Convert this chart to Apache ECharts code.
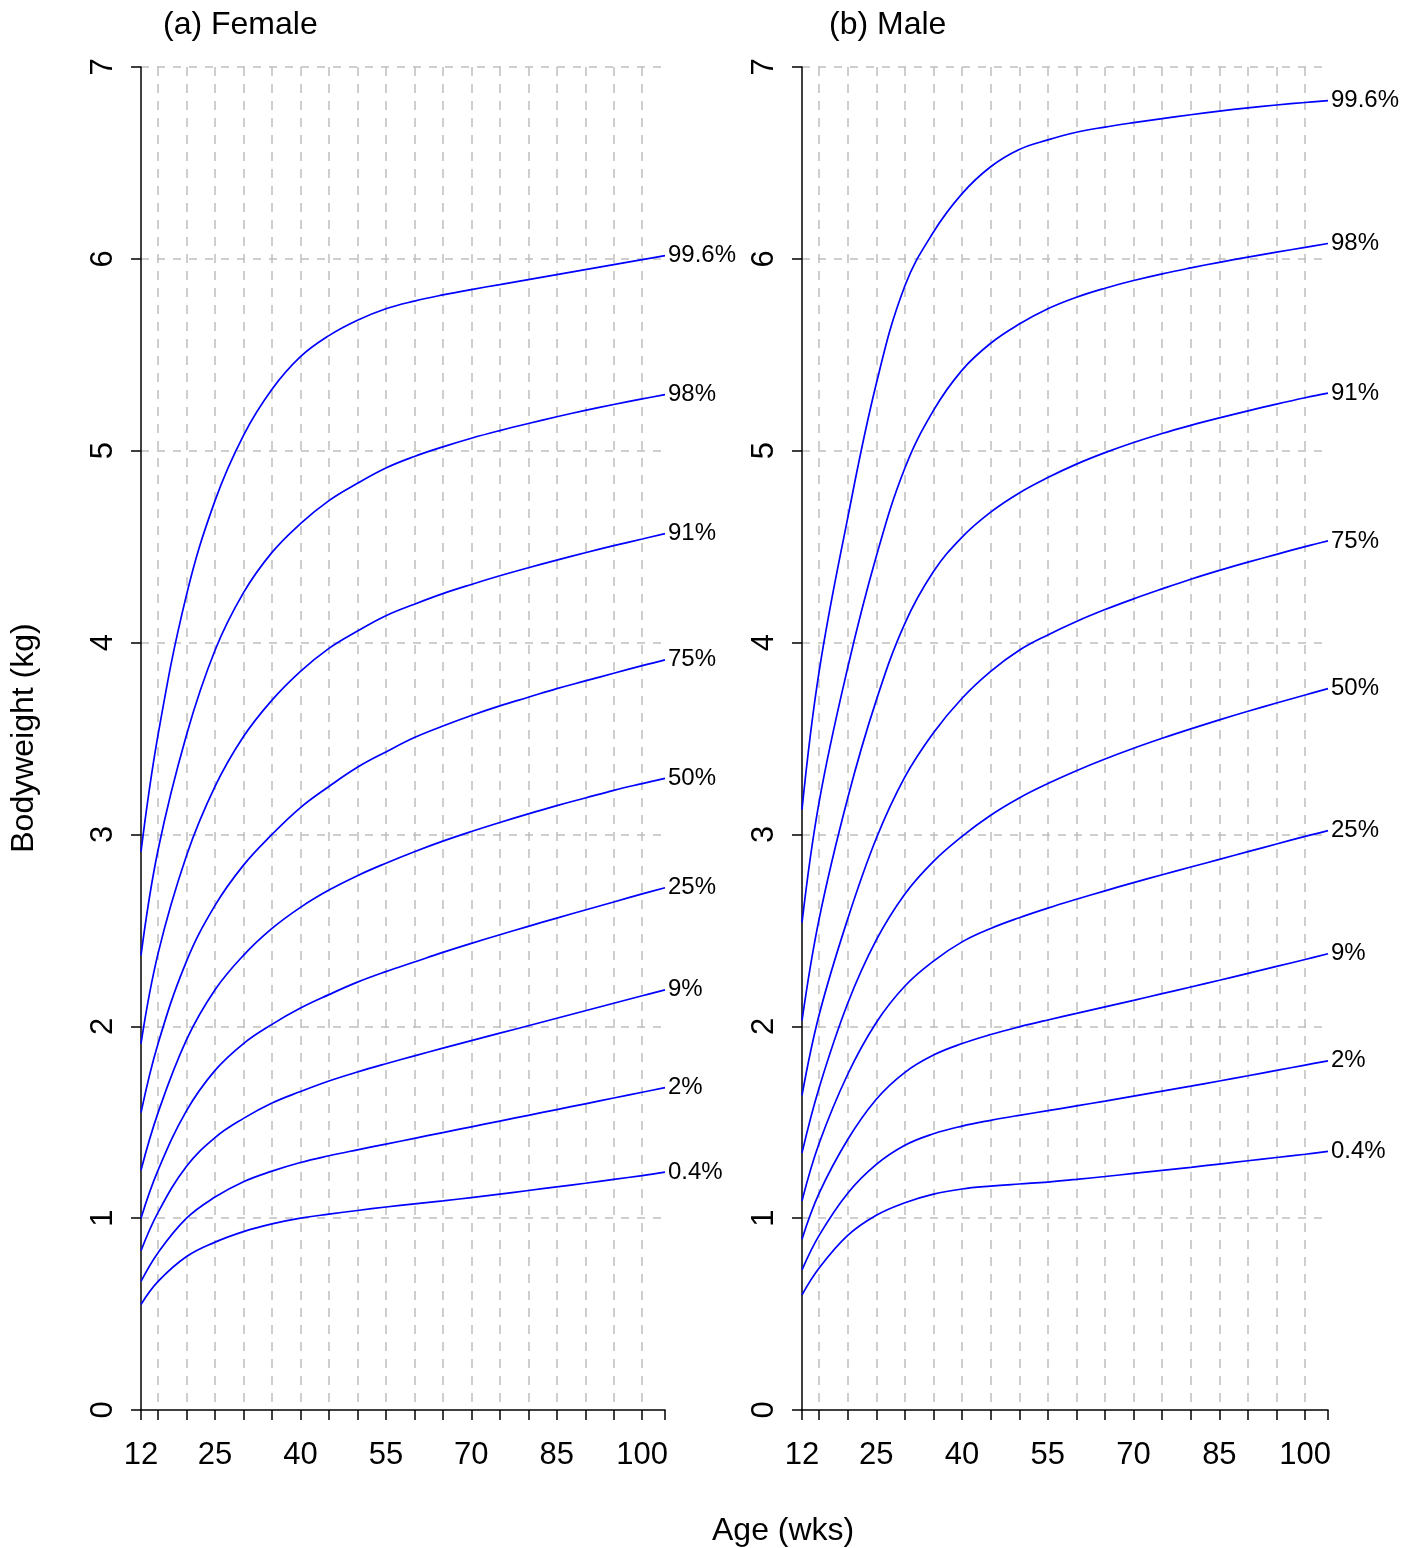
<!DOCTYPE html>
<html>
<head>
<meta charset="utf-8">
<script src="https://cdn.jsdelivr.net/npm/echarts@6/dist/echarts.min.js"></script>
<style>
html,body{margin:0;padding:0;background:#fff;}
#chart{width:1417px;height:1548px;}
</style>
</head>
<body>
<div id="chart"></div>
<script>
// ---- data ----
const ages = [12, 15, 20, 25, 30, 35, 40, 45, 50, 55, 60, 65, 70, 75, 80, 85, 90, 95, 100, 104];
const percentiles = ['99.6%', '98%', '91%', '75%', '50%', '25%', '9%', '2%', '0.4%'];
const xTickValues = [12, 15, 20, 25, 30, 35, 40, 45, 50, 55, 60, 65, 70, 75, 80, 85, 90, 95, 100, 104];
const xLabelValues = [12, 25, 40, 55, 70, 85, 100];
const panelTitles = ['(a) Female', '(b) Male'];

// Female percentile curves (kg)
const female996 = [2.91, 3.52, 4.25, 4.74, 5.08, 5.32, 5.49, 5.60, 5.68, 5.74, 5.78, 5.812, 5.84, 5.866, 5.892, 5.918, 5.944, 5.97, 5.996, 6.017];
const female98  = [2.37, 2.92, 3.52, 3.96, 4.26, 4.47, 4.62, 4.74, 4.83, 4.91, 4.97, 5.02, 5.065, 5.105, 5.142, 5.177, 5.21, 5.241, 5.27, 5.292];
const female91  = [1.91, 2.38, 2.89, 3.25, 3.51, 3.70, 3.85, 3.97, 4.06, 4.14, 4.20, 4.255, 4.303, 4.348, 4.39, 4.43, 4.468, 4.505, 4.54, 4.568];
const female75  = [1.55, 1.91, 2.34, 2.63, 2.84, 3.00, 3.14, 3.25, 3.35, 3.43, 3.505, 3.565, 3.62, 3.67, 3.715, 3.76, 3.80, 3.84, 3.88, 3.91];
const female50  = [1.25, 1.55, 1.93, 2.19, 2.37, 2.51, 2.62, 2.71, 2.785, 2.85, 2.91, 2.965, 3.015, 3.062, 3.107, 3.15, 3.19, 3.23, 3.265, 3.292];
const female25  = [1.00, 1.25, 1.56, 1.77, 1.91, 2.01, 2.095, 2.165, 2.23, 2.285, 2.335, 2.385, 2.432, 2.477, 2.521, 2.564, 2.606, 2.648, 2.69, 2.722];
const female9   = [0.83, 1.03, 1.27, 1.42, 1.52, 1.60, 1.66, 1.715, 1.762, 1.805, 1.846, 1.886, 1.925, 1.964, 2.003, 2.042, 2.081, 2.12, 2.159, 2.19];
const female2   = [0.67, 0.82, 1.00, 1.11, 1.19, 1.245, 1.29, 1.325, 1.356, 1.386, 1.416, 1.446, 1.476, 1.506, 1.536, 1.566, 1.596, 1.626, 1.656, 1.68];
const female04  = [0.55, 0.67, 0.80, 0.875, 0.93, 0.97, 1.00, 1.021, 1.04, 1.058, 1.074, 1.09, 1.107, 1.125, 1.144, 1.163, 1.182, 1.202, 1.222, 1.24];

// Male percentile curves (kg)
const male996 = [3.13, 3.85, 4.65, 5.35, 5.86, 6.14, 6.34, 6.48, 6.57, 6.62, 6.66, 6.687, 6.71, 6.731, 6.751, 6.77, 6.787, 6.802, 6.815, 6.825];
const male98  = [2.54, 3.17, 3.87, 4.45, 4.91, 5.21, 5.42, 5.56, 5.66, 5.74, 5.80, 5.847, 5.887, 5.922, 5.953, 5.982, 6.009, 6.035, 6.06, 6.08];
const male91  = [2.03, 2.56, 3.19, 3.70, 4.10, 4.37, 4.55, 4.68, 4.78, 4.86, 4.93, 4.99, 5.043, 5.09, 5.132, 5.171, 5.208, 5.243, 5.276, 5.30];
const male75  = [1.64, 2.06, 2.56, 2.98, 3.30, 3.53, 3.71, 3.85, 3.96, 4.04, 4.11, 4.172, 4.228, 4.28, 4.33, 4.376, 4.419, 4.46, 4.50, 4.53];
const male50  = [1.34, 1.68, 2.12, 2.45, 2.69, 2.86, 2.99, 3.10, 3.19, 3.265, 3.332, 3.393, 3.449, 3.501, 3.55, 3.597, 3.642, 3.685, 3.727, 3.76];
const male25  = [1.09, 1.39, 1.75, 2.02, 2.21, 2.34, 2.44, 2.51, 2.566, 2.616, 2.662, 2.706, 2.749, 2.79, 2.83, 2.87, 2.91, 2.95, 2.99, 3.02];
const male9   = [0.89, 1.13, 1.41, 1.62, 1.76, 1.85, 1.91, 1.957, 1.997, 2.033, 2.067, 2.101, 2.135, 2.17, 2.205, 2.24, 2.276, 2.312, 2.348, 2.378];
const male2   = [0.73, 0.91, 1.13, 1.28, 1.38, 1.44, 1.48, 1.51, 1.536, 1.56, 1.585, 1.61, 1.636, 1.662, 1.688, 1.715, 1.742, 1.77, 1.798, 1.82];
const male04  = [0.60, 0.74, 0.91, 1.015, 1.08, 1.125, 1.152, 1.167, 1.178, 1.188, 1.202, 1.217, 1.233, 1.249, 1.265, 1.282, 1.299, 1.316, 1.333, 1.348];

const femaleCurves = [female996, female98, female91, female75, female50, female25, female9, female2, female04];
const maleCurves   = [male996, male98, male91, male75, male50, male25, male9, male2, male04];

// ---- chart ----
const FONT = '"Liberation Sans", Arial, sans-serif';
const chart = echarts.init(document.getElementById('chart'), null, {renderer: 'canvas'});

const grids = [
  {left: 141, right: 1417 - 665, top: 67, bottom: 1548 - 1410},
  {left: 802, right: 1417 - 1328, top: 67, bottom: 1548 - 1410}
];

function xAxis(i) {
  return {
    type: 'value', gridIndex: i, min: 12, max: 104,
    axisLine: {show: true, onZero: false, lineStyle: {color: '#000', width: 1.5}},
    axisTick: {show: true, length: 10, inside: false, customValues: xTickValues, lineStyle: {color: '#000', width: 1.5}},
    axisLabel: {customValues: xLabelValues, fontSize: 31, color: '#000', fontFamily: FONT, margin: 30},
    splitLine: {show: true, showMinLine: false, showMaxLine: false, lineStyle: {color: '#bebebe', width: 1.5, type: [9, 8]}}
  };
}
function yAxis(i) {
  return {
    type: 'value', gridIndex: i, min: 0, max: 7, interval: 1,
    axisLine: {show: true, onZero: false, lineStyle: {color: '#000', width: 1.5}},
    axisTick: {show: true, length: 10, lineStyle: {color: '#000', width: 1.5}},
    axisLabel: {rotate: 90, fontSize: 31, color: '#000', fontFamily: FONT, margin: 22},
    splitLine: {show: true, showMinLine: false, lineStyle: {color: '#bebebe', width: 1.5, type: [8, 8]}}
  };
}

const series = [];
[femaleCurves, maleCurves].forEach((curves, gi) => {
  curves.forEach((vals, k) => {
    series.push({
      type: 'line', name: percentiles[k], xAxisIndex: gi, yAxisIndex: gi,
      data: ages.map((a, j) => [a, vals[j]]),
      smooth: 0.4, showSymbol: false, symbol: 'none',
      lineStyle: {color: '#0000ff', width: 1.7},
      endLabel: {show: true, formatter: '{a}', color: '#000', fontSize: 24, fontFamily: FONT, distance: 3},
      silent: true, animation: false
    });
  });
});

const titleStyle = {fontSize: 32, fontWeight: 'normal', color: '#000', fontFamily: FONT};
chart.setOption({
  animation: false,
  grid: grids,
  xAxis: [xAxis(0), xAxis(1)],
  yAxis: [yAxis(0), yAxis(1)],
  title: [
    {text: panelTitles[0], left: 158, top: 4, textStyle: titleStyle},
    {text: panelTitles[1], left: 824, top: 4, textStyle: titleStyle},
    {text: 'Age (wks)', left: 707, top: 1510, textStyle: titleStyle}
  ],
  graphic: [{
    type: 'text', x: 24, y: 738, rotation: Math.PI / 2,
    style: {text: 'Bodyweight (kg)', fontSize: 32, fontFamily: FONT, fill: '#000', textAlign: 'center', textVerticalAlign: 'middle'}
  }],
  series: series
});
</script>
</body>
</html>
